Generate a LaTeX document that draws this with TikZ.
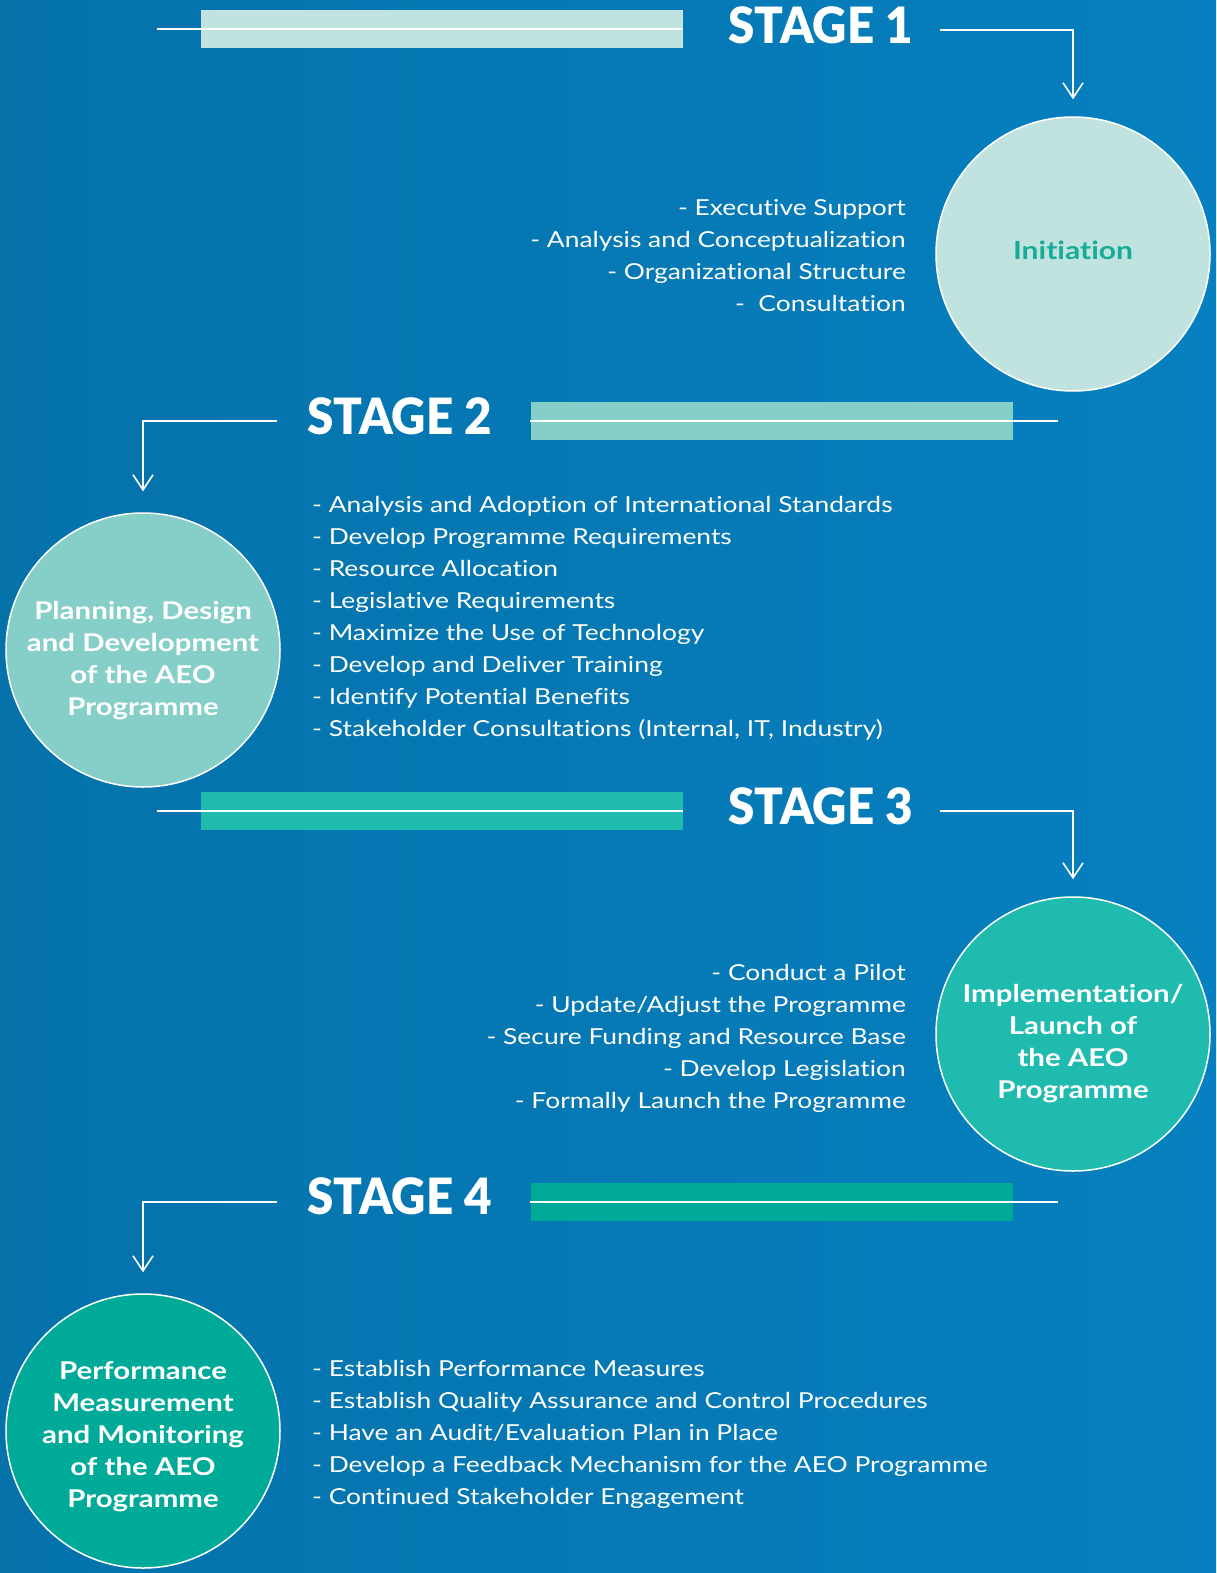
\documentclass[tikz,border=0pt]{standalone}
\usepackage{fontspec}
\setmainfont{Lato}[FakeStretch=1.2, Ligatures=NoCommon]
\newfontfamily\headfont{Lato Black}[FakeStretch=0.95]
\usetikzlibrary{arrows.meta,positioning}

\definecolor{bgdark}{RGB}{5,114,170}
\definecolor{bgblue}{RGB}{6,128,192}
\definecolor{bglight}{RGB}{10,136,199}
\definecolor{mintA}{RGB}{193,227,223}
\definecolor{mintB}{RGB}{134,207,200}
\definecolor{mintC}{RGB}{31,187,175}
\definecolor{mintD}{RGB}{0,170,153}
\definecolor{tealtext}{RGB}{22,172,152}

\tikzset{
  stagehead/.style={text=white, inner sep=0pt,
    font=\fontsize{50}{50}\selectfont\headfont},
  stagecircle/.style={circle, draw=white, line width=1.5pt, minimum size=274pt,
    inner sep=0pt},
  circletext/.style={align=center, text=white, inner sep=0pt,
    font=\fontsize{24.5}{32}\selectfont\bfseries},
  stagebar/.style={minimum width=482pt, minimum height=38pt, inner sep=0pt},
  tasklist/.style={text=white, inner sep=0pt, font=\fontsize{22}{32}\selectfont},
  link/.style={white, line width=1.6pt},
  barline/.style={white, line width=2pt},
}

\begin{document}
\begin{tikzpicture}[x=1pt, y=-1pt, >={Straight Barb[length=15pt, width=20pt]}]
    \useasboundingbox (0,0) rectangle (1216,1573);
    % Hintergrund
    \shade[left color=bgdark, middle color=bglight, right color=bgblue]
        (0,0) rectangle (1216,1573);

    % Stufe 1
    \node[stagebar, fill=mintA] (bar1) at (442,29) {};
    \draw[barline] ([xshift=-44pt]bar1.west) -- (bar1.east);
    \node[stagehead, anchor=west] (s1) at (728,25) {STAGE 1};
    \node[stagecircle, fill=mintA] (c1) at (1073,254) {};
    \node[circletext, text=tealtext, font=\fontsize{25}{32}\selectfont\bfseries]
        (c1-text) at ([yshift=4pt]c1.center) {Initiation};
    \draw[link, ->] ([shift={(27pt,-5pt)}]s1.east) -| ([yshift=17pt]c1.north);
    \foreach \i/\txt in {1/- Executive Support, 2/- Analysis and Conceptualization,
        3/- Organizational Structure, 4/-~ Consultation} {
        \node[tasklist, anchor=base east] (ta-\i) at (906,{215+32*(\i-1)}) {\txt};
    }

    % Stufe 2
    \node[stagebar, fill=mintB] (bar2) at (771.5,421) {};
    \draw[barline] (bar2.west) -- ([xshift=45pt]bar2.east);
    \node[stagehead, anchor=west] (s2) at (307,416) {STAGE 2};
    \node[stagecircle, fill=mintB] (c2) at (143,650) {};
    \node[circletext] (c2-text) at ([yshift=-11pt]c2.center)
        {Planning, Design\\and Development\\of the AEO\\Programme};
    \draw[link, ->] ([shift={(-30pt,-5pt)}]s2.west) -| ([yshift=21pt]c2.north);
    \foreach \i/\txt in {1/{- Analysis and Adoption of International Standards},
        2/{- Develop Programme Requirements}, 3/{- Resource Allocation},
        4/{- Legislative Requirements}, 5/{- Maximize the Use of Technology},
        6/{- Develop and Deliver Training}, 7/{- Identify Potential Benefits},
        8/{- Stakeholder Consultations (Internal, IT, Industry)}} {
        \node[tasklist, anchor=base west] (tb-\i) at (312,{512+32*(\i-1)}) {\txt};
    }

    % Stufe 3
    \node[stagebar, fill=mintC] (bar3) at (442,811) {};
    \draw[barline] ([xshift=-44pt]bar3.west) -- (bar3.east);
    \node[stagehead, anchor=west] (s3) at (728,806) {STAGE 3};
    \node[stagecircle, fill=mintC] (c3) at (1073,1034) {};
    \node[circletext] (c3-text) at ([yshift=-10pt]c3.center)
        {Implementation/\\Launch of\\the AEO\\Programme};
    \draw[link, ->] ([shift={(27pt,-5pt)}]s3.east) -| ([yshift=17pt]c3.north);
    \foreach \i/\txt in {1/{- Conduct a Pilot}, 2/{- Update/Adjust the Programme},
        3/{- Secure Funding and Resource Base}, 4/{- Develop Legislation},
        5/{- Formally Launch the Programme}} {
        \node[tasklist, anchor=base east] (tc-\i) at (906,{980+32*(\i-1)}) {\txt};
    }

    % Stufe 4
    \node[stagebar, fill=mintD] (bar4) at (771.5,1201.5) {};
    \draw[barline] (bar4.west) -- ([xshift=45pt]bar4.east);
    \node[stagehead, anchor=west] (s4) at (307,1196) {STAGE 4};
    \node[stagecircle, fill=mintD] (c4) at (143,1431) {};
    \node[circletext] (c4-text) at ([yshift=-6pt]c4.center)
        {Performance\\Measurement\\and Monitoring\\of the AEO\\Programme};
    \draw[link, ->] ([shift={(-30pt,-6pt)}]s4.west) -| ([yshift=21pt]c4.north);
    \foreach \i/\txt in {1/{- Establish Performance Measures},
        2/{- Establish Quality Assurance and Control Procedures},
        3/{- Have an Audit/Evaluation Plan in Place},
        4/{- Develop a Feedback Mechanism for the AEO Programme},
        5/{- Continued Stakeholder Engagement}} {
        \node[tasklist, anchor=base west] (td-\i) at (312,{1376+32*(\i-1)}) {\txt};
    }
\end{tikzpicture}
\end{document}
